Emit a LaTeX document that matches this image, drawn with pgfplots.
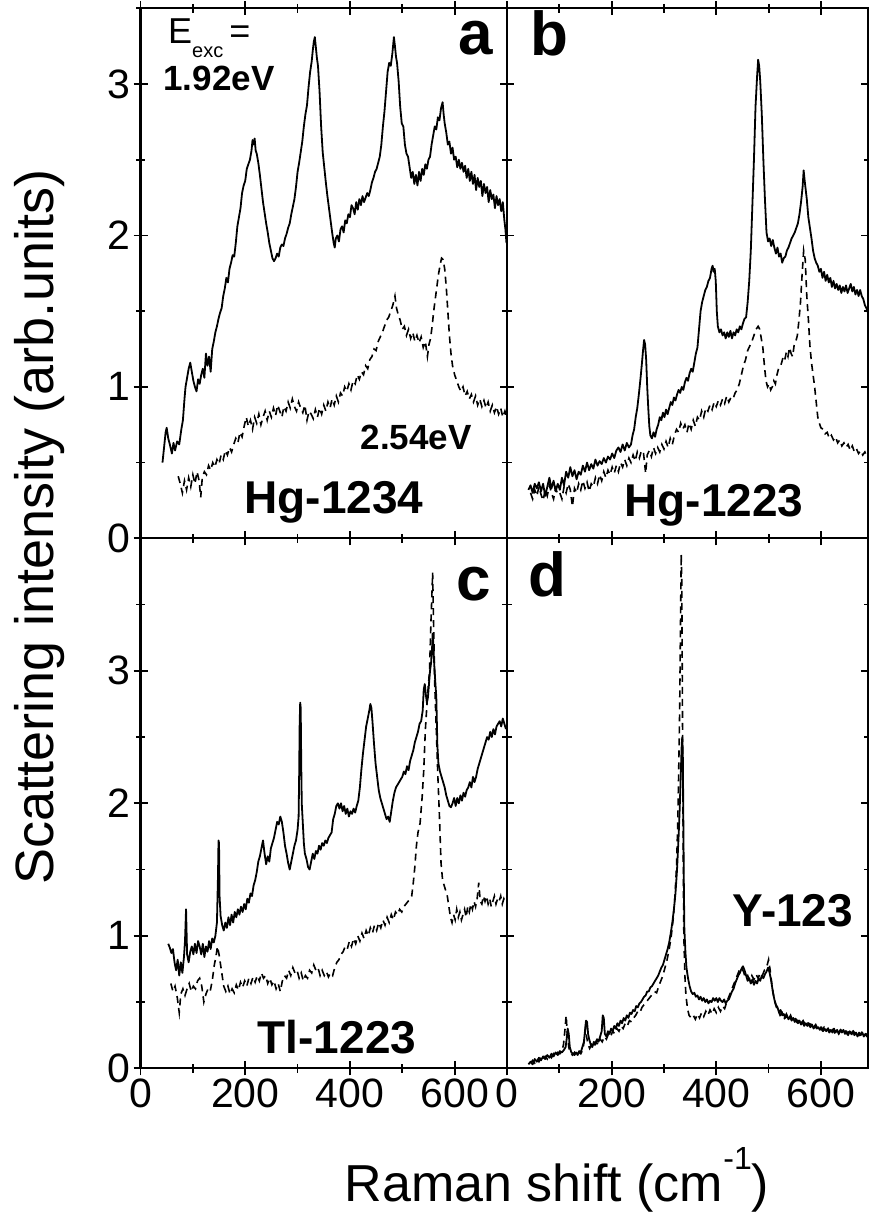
\documentclass[border=0pt]{standalone}
\usepackage{pgfplots}
\pgfplotsset{compat=1.18}
\usepackage{fontspec}
\setmainfont{Liberation Sans}
\newcommand{\tickfont}{\fontsize{41}{48}\selectfont}
\pgfplotsset{
  panel/.style={
    scale only axis,
    axis line style={line width=2.2pt},
    tick style={black, line width=1.8pt},
    major tick length=14pt,
    minor tick length=9pt,
    tick align=center,
    xtick={0,200,400,600},
    minor xtick={100,300,500,700},
    ytick={0,1,2,3},
    ticklabel style={font=\tickfont},
    /pgf/number format/assume math mode=true,
    xmin=0, ymin=0,
    clip=true,
  },
  sol/.style={black, line width=1.8pt, line join=round},
  das/.style={black, line width=1.6pt, dash pattern=on 7pt off 5pt},
}
\begin{document}
\begin{tikzpicture}
% ---------------- panel a ----------------
\begin{axis}[panel, at={(140.5pt,-538.3pt)}, anchor=south west,
  width=366.5pt, height=530pt, xmax=700, ymax=3.5,
  minor ytick={0.5,1.5,2.5,3.5}, xticklabels={,,}]
\addplot[sol] coordinates {
(42,0.50)(45,0.60)(48,0.70)(50,0.73)(53,0.66)(56,0.62)(60,0.56)(63,0.63)(66,0.58)(70,0.64)(74,0.62)(78,0.72)(81,0.78)(84,0.92)(86,1.00)(89,1.06)(92,1.12)(95,1.16)(98,1.10)(101,1.04)(104,1.00)(107,0.97)(110,1.05)(113,1.02)(116,1.08)(119,1.12)(122,1.06)(125,1.22)(128,1.14)(131,1.20)(134,1.10)(137,1.25)(140,1.30)(143,1.36)(146,1.40)(149,1.45)(152,1.49)(155,1.52)(158,1.60)(161,1.65)(164,1.72)(167,1.69)(170,1.78)(173,1.82)(176,1.87)(179,1.86)(182,1.95)(185,2.06)(188,2.12)(191,2.18)(194,2.28)(197,2.33)(200,2.36)(203,2.44)(206,2.47)(209,2.50)(212,2.56)(214,2.63)(216,2.60)(218,2.64)(220,2.56)(222,2.54)(225,2.48)(228,2.40)(231,2.31)(234,2.22)(237,2.15)(240,2.08)(243,2.02)(246,1.95)(249,1.90)(252,1.85)(255,1.83)(258,1.85)(261,1.88)(264,1.86)(267,1.92)(270,1.94)(273,1.93)(276,1.98)(279,2.01)(282,2.05)(285,2.08)(288,2.14)(291,2.19)(294,2.24)(297,2.32)(300,2.42)(303,2.48)(306,2.55)(309,2.62)(312,2.72)(315,2.80)(318,2.86)(321,2.98)(324,3.08)(327,3.15)(329,3.22)(331,3.28)(333,3.31)(335,3.24)(337,3.17)(339,3.12)(342,2.95)(345,2.72)(348,2.55)(351,2.45)(354,2.35)(357,2.26)(360,2.18)(363,2.10)(366,2.02)(369,1.95)(371,1.92)(373,1.98)(376,2.00)(379,1.96)(382,2.04)(385,2.06)(388,2.02)(391,2.10)(394,2.08)(397,2.14)(400,2.12)(403,2.20)(406,2.18)(409,2.14)(412,2.22)(415,2.17)(418,2.24)(421,2.20)(424,2.26)(427,2.22)(430,2.25)(433,2.28)(436,2.26)(439,2.30)(442,2.35)(445,2.38)(448,2.42)(451,2.44)(454,2.48)(457,2.52)(460,2.60)(463,2.72)(466,2.82)(469,2.95)(472,3.08)(475,3.14)(478,3.12)(481,3.20)(484,3.31)(486,3.25)(488,3.18)(490,3.14)(493,3.02)(496,2.85)(499,2.74)(502,2.72)(505,2.60)(508,2.54)(511,2.52)(514,2.45)(517,2.38)(520,2.42)(523,2.34)(526,2.40)(529,2.33)(532,2.42)(535,2.36)(538,2.44)(541,2.40)(544,2.47)(547,2.44)(550,2.50)(553,2.52)(556,2.60)(559,2.66)(562,2.72)(565,2.70)(568,2.78)(571,2.76)(574,2.84)(577,2.88)(579,2.80)(581,2.74)(584,2.68)(587,2.60)(590,2.62)(593,2.54)(596,2.58)(599,2.50)(602,2.52)(605,2.45)(608,2.50)(611,2.44)(614,2.48)(617,2.42)(620,2.46)(623,2.38)(626,2.44)(629,2.36)(632,2.42)(635,2.34)(638,2.40)(641,2.30)(644,2.38)(647,2.32)(650,2.36)(653,2.26)(656,2.34)(659,2.28)(662,2.32)(665,2.22)(668,2.30)(671,2.24)(674,2.27)(677,2.18)(680,2.26)(683,2.20)(686,2.24)(689,2.16)(692,2.22)(695,2.10)(697,2.04)(699,1.95)
};
\addplot[das] coordinates {
(72,0.41)(76,0.36)(80,0.30)(84,0.38)(88,0.32)(92,0.40)(96,0.34)(100,0.42)(104,0.36)(108,0.44)(112,0.38)(115,0.27)(118,0.40)(122,0.44)(126,0.42)(130,0.48)(134,0.45)(138,0.50)(142,0.47)(146,0.52)(150,0.49)(154,0.55)(158,0.52)(162,0.58)(166,0.55)(170,0.60)(174,0.57)(178,0.62)(182,0.66)(186,0.63)(190,0.70)(194,0.67)(198,0.74)(202,0.80)(206,0.74)(210,0.78)(214,0.72)(218,0.80)(222,0.76)(226,0.82)(230,0.75)(234,0.80)(238,0.84)(242,0.78)(246,0.84)(250,0.80)(254,0.86)(258,0.81)(262,0.88)(266,0.84)(270,0.80)(274,0.87)(278,0.84)(282,0.90)(286,0.86)(290,0.92)(294,0.87)(298,0.84)(302,0.90)(306,0.86)(310,0.83)(314,0.88)(318,0.78)(322,0.84)(326,0.82)(330,0.79)(334,0.85)(338,0.80)(342,0.86)(346,0.82)(350,0.88)(354,0.84)(358,0.90)(362,0.86)(366,0.92)(370,0.88)(374,0.94)(378,0.90)(382,0.96)(386,0.94)(390,1.00)(394,0.97)(398,1.02)(402,0.98)(406,1.04)(410,1.02)(414,1.08)(418,1.05)(422,1.10)(426,1.08)(430,1.14)(434,1.12)(438,1.18)(442,1.20)(446,1.25)(450,1.24)(454,1.30)(458,1.33)(462,1.36)(466,1.40)(470,1.44)(474,1.46)(478,1.50)(482,1.54)(486,1.60)(489,1.52)(492,1.48)(496,1.44)(500,1.38)(504,1.40)(508,1.34)(512,1.38)(516,1.32)(520,1.36)(524,1.30)(528,1.34)(532,1.29)(536,1.33)(540,1.26)(544,1.30)(548,1.20)(551,1.28)(554,1.32)(557,1.40)(560,1.50)(563,1.58)(566,1.66)(569,1.74)(572,1.80)(575,1.85)(578,1.84)(581,1.78)(584,1.66)(587,1.50)(590,1.34)(593,1.22)(596,1.14)(600,1.08)(604,1.04)(608,1.00)(612,0.97)(616,1.00)(620,0.94)(624,0.97)(628,0.92)(632,0.95)(636,0.90)(640,0.94)(644,0.88)(648,0.92)(652,0.87)(656,0.91)(660,0.86)(664,0.90)(668,0.84)(672,0.88)(676,0.83)(680,0.87)(684,0.82)(688,0.86)(692,0.80)(696,0.84)(699,0.80)
};
\end{axis}
% ---------------- panel b ----------------
\begin{axis}[panel, at={(507pt,-538.3pt)}, anchor=south west,
  width=361pt, height=530pt, xmax=690, ymax=3.5,
  minor ytick={0.5,1.5,2.5,3.5}, xticklabels={,,}, yticklabels={,,}]
\addplot[sol] coordinates {
(41,0.32)(45,0.35)(49,0.30)(53,0.36)(57,0.33)(61,0.37)(65,0.31)(69,0.36)(73,0.28)(77,0.34)(81,0.40)(85,0.33)(89,0.38)(93,0.31)(97,0.36)(101,0.32)(105,0.40)(109,0.35)(113,0.44)(117,0.40)(121,0.47)(125,0.41)(129,0.45)(133,0.39)(137,0.44)(141,0.42)(145,0.48)(149,0.44)(153,0.50)(157,0.45)(161,0.49)(165,0.46)(169,0.52)(173,0.48)(177,0.51)(181,0.49)(185,0.53)(189,0.50)(193,0.54)(197,0.52)(201,0.56)(205,0.53)(209,0.58)(213,0.60)(217,0.57)(221,0.62)(225,0.58)(229,0.63)(233,0.60)(237,0.62)(240,0.68)(243,0.72)(246,0.80)(249,0.86)(252,0.95)(255,1.05)(258,1.16)(260,1.24)(262,1.31)(264,1.28)(266,1.18)(268,1.00)(270,0.86)(272,0.74)(274,0.68)(277,0.66)(280,0.70)(283,0.67)(286,0.72)(289,0.75)(292,0.80)(295,0.78)(298,0.83)(301,0.80)(304,0.85)(307,0.82)(310,0.86)(313,0.90)(316,0.88)(319,0.93)(322,0.91)(325,0.95)(328,0.98)(331,0.96)(334,1.00)(337,0.98)(340,1.03)(343,1.06)(346,1.04)(349,1.09)(352,1.12)(355,1.10)(358,1.16)(361,1.22)(364,1.26)(367,1.38)(370,1.50)(373,1.56)(376,1.60)(379,1.64)(382,1.66)(385,1.70)(388,1.72)(391,1.78)(393,1.80)(395,1.76)(397,1.78)(399,1.70)(401,1.50)(403,1.40)(406,1.36)(409,1.38)(412,1.34)(415,1.36)(418,1.32)(421,1.36)(424,1.33)(427,1.37)(430,1.32)(433,1.36)(436,1.34)(439,1.38)(442,1.36)(445,1.40)(448,1.38)(451,1.42)(454,1.45)(457,1.46)(460,1.56)(463,1.70)(466,1.90)(469,2.20)(472,2.50)(475,2.85)(478,3.05)(480,3.16)(482,3.12)(484,3.02)(487,2.80)(490,2.50)(493,2.24)(496,2.02)(499,1.96)(502,1.98)(505,1.93)(508,1.97)(511,1.92)(514,1.88)(517,1.92)(520,1.86)(523,1.88)(526,1.82)(529,1.85)(532,1.86)(535,1.90)(538,1.92)(541,1.95)(544,1.98)(547,2.00)(550,2.02)(553,2.05)(556,2.08)(559,2.14)(562,2.22)(565,2.32)(567,2.43)(569,2.36)(571,2.30)(573,2.24)(576,2.12)(579,2.05)(582,1.98)(585,1.90)(588,1.85)(591,1.82)(594,1.80)(597,1.76)(600,1.78)(603,1.72)(606,1.76)(609,1.70)(612,1.74)(615,1.69)(618,1.72)(621,1.66)(624,1.70)(627,1.65)(630,1.68)(633,1.64)(636,1.67)(639,1.62)(642,1.66)(645,1.63)(648,1.67)(651,1.62)(654,1.65)(657,1.68)(660,1.63)(663,1.66)(666,1.61)(669,1.64)(672,1.60)(675,1.64)(678,1.60)(681,1.58)(684,1.54)(687,1.52)(690,1.49)
};
\addplot[das] coordinates {
(45,0.30)(49,0.26)(53,0.32)(57,0.28)(61,0.34)(65,0.29)(69,0.25)(73,0.32)(77,0.28)(81,0.35)(85,0.30)(89,0.26)(93,0.33)(97,0.29)(101,0.30)(105,0.26)(109,0.34)(113,0.30)(117,0.36)(121,0.32)(125,0.21)(129,0.33)(133,0.30)(137,0.36)(141,0.32)(145,0.38)(149,0.33)(153,0.37)(157,0.31)(161,0.36)(165,0.34)(169,0.40)(173,0.36)(177,0.42)(181,0.38)(185,0.44)(189,0.40)(193,0.45)(197,0.42)(201,0.47)(205,0.43)(209,0.48)(213,0.44)(217,0.50)(221,0.47)(225,0.52)(229,0.48)(233,0.53)(237,0.50)(241,0.55)(245,0.51)(249,0.57)(253,0.53)(257,0.58)(261,0.56)(265,0.43)(268,0.55)(272,0.58)(276,0.54)(280,0.60)(284,0.56)(288,0.60)(292,0.57)(296,0.62)(300,0.59)(304,0.64)(308,0.60)(312,0.66)(316,0.62)(320,0.68)(324,0.72)(328,0.70)(332,0.76)(336,0.72)(340,0.75)(344,0.70)(348,0.76)(352,0.72)(356,0.78)(360,0.74)(364,0.80)(368,0.78)(372,0.84)(376,0.80)(380,0.86)(384,0.84)(388,0.88)(392,0.85)(396,0.90)(400,0.87)(404,0.91)(408,0.88)(412,0.92)(416,0.89)(420,0.94)(424,0.90)(428,0.93)(432,0.92)(436,0.96)(440,0.98)(444,1.02)(448,1.08)(452,1.14)(456,1.18)(460,1.24)(464,1.27)(468,1.30)(472,1.34)(476,1.38)(480,1.40)(483,1.38)(486,1.32)(489,1.26)(492,1.14)(495,1.04)(498,1.00)(501,1.02)(504,0.98)(507,1.00)(510,1.04)(513,1.02)(516,1.08)(519,1.12)(522,1.13)(525,1.16)(528,1.20)(531,1.18)(534,1.23)(537,1.20)(540,1.26)(543,1.22)(546,1.20)(549,1.28)(552,1.30)(555,1.34)(558,1.44)(561,1.56)(564,1.74)(567,1.90)(570,1.84)(573,1.60)(576,1.45)(579,1.27)(582,1.16)(585,1.08)(588,1.00)(591,0.90)(594,0.80)(597,0.76)(600,0.73)(604,0.72)(608,0.69)(612,0.70)(616,0.66)(620,0.68)(624,0.65)(628,0.67)(632,0.63)(636,0.65)(640,0.61)(644,0.63)(648,0.60)(652,0.62)(656,0.58)(660,0.61)(664,0.57)(668,0.59)(672,0.56)(676,0.58)(680,0.55)(684,0.57)(688,0.54)(690,0.55)
};
\end{axis}
% ---------------- panel c ----------------
\begin{axis}[panel, at={(140.5pt,-1068.3pt)}, anchor=south west,
  width=366.5pt, height=530pt, xmax=700, ymax=4,
  minor ytick={0.5,1.5,2.5,3.5}]
\addplot[sol] coordinates {
(53,0.94)(56,0.91)(59,0.87)(62,0.90)(65,0.80)(68,0.74)(71,0.82)(74,0.70)(77,0.80)(80,0.72)(83,0.84)(85,0.96)(87,1.20)(89,0.86)(92,0.80)(95,0.88)(98,0.92)(101,0.86)(104,0.94)(107,0.87)(110,0.96)(113,0.92)(116,0.86)(119,0.94)(122,0.84)(125,0.92)(128,0.88)(131,0.96)(134,0.90)(137,0.98)(140,0.95)(143,1.00)(146,1.10)(148,1.45)(149,1.72)(150,1.70)(151,1.30)(153,1.15)(156,1.08)(159,1.04)(162,1.10)(165,1.06)(168,1.14)(171,1.08)(174,1.16)(177,1.10)(180,1.18)(183,1.14)(186,1.20)(189,1.16)(192,1.22)(195,1.18)(198,1.24)(201,1.20)(204,1.28)(207,1.25)(210,1.32)(213,1.30)(216,1.38)(219,1.42)(222,1.48)(225,1.56)(228,1.60)(231,1.66)(234,1.72)(237,1.62)(240,1.54)(243,1.60)(246,1.56)(249,1.66)(252,1.70)(255,1.74)(258,1.80)(261,1.86)(264,1.84)(267,1.90)(270,1.86)(273,1.78)(276,1.68)(279,1.62)(282,1.55)(285,1.50)(288,1.56)(291,1.62)(294,1.68)(297,1.72)(300,1.80)(302,1.90)(303,2.20)(304,2.60)(305,2.76)(306,2.72)(307,2.30)(308,2.00)(310,1.85)(312,1.70)(314,1.62)(317,1.58)(320,1.52)(323,1.50)(326,1.56)(329,1.62)(332,1.58)(335,1.64)(338,1.62)(341,1.68)(344,1.65)(347,1.70)(350,1.68)(353,1.72)(356,1.70)(359,1.74)(362,1.76)(365,1.78)(368,1.88)(371,1.92)(374,1.98)(377,2.00)(380,1.96)(383,2.00)(386,1.94)(389,1.98)(392,1.92)(395,1.96)(398,1.90)(401,1.94)(404,1.92)(407,1.96)(410,1.93)(413,1.98)(416,2.02)(419,2.12)(422,2.26)(425,2.38)(428,2.48)(431,2.58)(434,2.64)(437,2.70)(439,2.75)(441,2.72)(443,2.62)(446,2.45)(449,2.30)(452,2.20)(455,2.10)(458,2.04)(461,2.00)(464,1.96)(467,1.92)(470,1.88)(473,1.90)(476,1.86)(479,1.94)(482,2.02)(485,2.08)(488,2.12)(491,2.14)(494,2.16)(497,2.18)(500,2.20)(503,2.24)(506,2.22)(509,2.28)(512,2.25)(515,2.32)(518,2.36)(521,2.40)(524,2.46)(527,2.50)(530,2.54)(533,2.60)(536,2.62)(539,2.70)(541,2.86)(543,2.90)(545,2.82)(547,2.76)(549,2.80)(551,2.90)(553,3.00)(555,3.06)(557,3.18)(558,3.28)(559,3.22)(561,3.05)(563,2.92)(565,2.80)(566,2.62)(567,2.44)(569,2.30)(572,2.24)(575,2.20)(578,2.16)(581,2.12)(584,2.06)(587,2.02)(590,1.98)(593,1.97)(596,2.00)(599,2.04)(602,1.98)(605,2.04)(608,2.00)(611,2.06)(614,2.02)(617,2.08)(620,2.05)(623,2.10)(626,2.12)(629,2.16)(632,2.12)(635,2.20)(638,2.16)(641,2.20)(644,2.26)(647,2.30)(650,2.34)(653,2.38)(656,2.42)(659,2.46)(662,2.50)(665,2.48)(668,2.54)(671,2.50)(674,2.56)(677,2.52)(680,2.58)(683,2.60)(686,2.62)(689,2.58)(692,2.64)(695,2.60)(698,2.56)
};
\addplot[das] coordinates {
(58,0.64)(62,0.58)(66,0.62)(70,0.54)(74,0.42)(77,0.56)(81,0.60)(85,0.55)(89,0.60)(93,0.64)(97,0.58)(101,0.62)(105,0.60)(109,0.66)(113,0.68)(117,0.62)(121,0.50)(125,0.56)(129,0.60)(133,0.58)(137,0.66)(141,0.78)(144,0.84)(147,0.92)(150,0.86)(153,0.78)(156,0.70)(159,0.62)(163,0.58)(167,0.62)(171,0.56)(175,0.60)(179,0.57)(183,0.63)(187,0.59)(191,0.65)(195,0.61)(199,0.66)(203,0.62)(207,0.68)(211,0.64)(215,0.69)(219,0.65)(223,0.70)(227,0.66)(231,0.72)(235,0.68)(239,0.70)(243,0.64)(247,0.68)(251,0.63)(255,0.66)(259,0.60)(263,0.64)(267,0.58)(271,0.66)(275,0.70)(279,0.68)(283,0.74)(287,0.70)(291,0.76)(295,0.72)(299,0.74)(303,0.68)(307,0.72)(311,0.66)(315,0.70)(319,0.68)(323,0.74)(327,0.72)(331,0.78)(335,0.74)(339,0.76)(343,0.70)(347,0.74)(351,0.70)(355,0.73)(359,0.69)(363,0.72)(367,0.70)(371,0.76)(375,0.80)(379,0.82)(383,0.86)(387,0.88)(391,0.92)(395,0.90)(399,0.96)(403,0.92)(407,0.98)(411,0.94)(415,1.00)(419,0.96)(423,1.02)(427,0.98)(431,1.04)(435,1.00)(439,1.06)(443,1.02)(447,1.08)(451,1.04)(455,1.10)(459,1.06)(463,1.12)(467,1.08)(471,1.14)(475,1.10)(479,1.16)(483,1.12)(487,1.18)(491,1.16)(495,1.20)(499,1.18)(503,1.22)(507,1.24)(511,1.26)(515,1.28)(518,1.30)(521,1.40)(524,1.52)(527,1.68)(530,1.78)(534,1.85)(538,2.05)(541,2.25)(544,2.55)(548,2.80)(552,3.00)(555,3.40)(558,3.74)(560,3.30)(562,2.90)(565,2.55)(568,2.20)(571,1.90)(574,1.55)(577,1.42)(580,1.38)(583,1.34)(586,1.30)(589,1.22)(592,1.14)(595,1.10)(598,1.16)(601,1.12)(604,1.20)(607,1.14)(610,1.18)(613,1.12)(616,1.16)(619,1.20)(622,1.14)(625,1.22)(628,1.18)(631,1.24)(634,1.20)(637,1.26)(640,1.22)(643,1.28)(646,1.40)(649,1.26)(652,1.24)(655,1.30)(658,1.26)(661,1.30)(664,1.24)(667,1.28)(670,1.22)(673,1.26)(676,1.30)(679,1.24)(682,1.28)(685,1.26)(688,1.30)(691,1.24)(694,1.28)(697,1.25)
};
\end{axis}
% ---------------- panel d ----------------
\begin{axis}[panel, at={(507pt,-1068.3pt)}, anchor=south west,
  width=361pt, height=530pt, xmax=690, ymax=4,
  minor ytick={0.5,1.5,2.5,3.5}, yticklabels={,,}]
\addplot[sol] coordinates {
(41,0.03)(45,0.05)(49,0.03)(53,0.07)(57,0.05)(61,0.08)(65,0.06)(69,0.09)(73,0.07)(77,0.10)(81,0.08)(85,0.11)(89,0.09)(93,0.12)(97,0.10)(101,0.13)(105,0.12)(109,0.14)(112,0.16)(114,0.22)(116,0.30)(118,0.26)(120,0.16)(123,0.12)(126,0.11)(129,0.10)(132,0.12)(135,0.10)(138,0.13)(141,0.12)(144,0.16)(147,0.20)(149,0.28)(151,0.36)(153,0.35)(155,0.26)(157,0.22)(160,0.18)(163,0.16)(166,0.20)(169,0.18)(172,0.22)(175,0.20)(178,0.24)(181,0.28)(183,0.40)(185,0.38)(187,0.26)(190,0.24)(193,0.28)(196,0.26)(199,0.30)(202,0.28)(205,0.32)(208,0.30)(211,0.34)(214,0.32)(217,0.36)(220,0.34)(223,0.38)(226,0.36)(229,0.40)(232,0.38)(235,0.42)(238,0.41)(241,0.44)(244,0.43)(247,0.47)(250,0.46)(253,0.49)(256,0.50)(259,0.52)(262,0.54)(265,0.55)(268,0.58)(271,0.58)(274,0.61)(277,0.62)(280,0.64)(283,0.66)(286,0.68)(289,0.70)(292,0.73)(295,0.76)(298,0.78)(301,0.82)(304,0.86)(307,0.90)(310,0.95)(313,1.02)(316,1.10)(319,1.20)(322,1.32)(325,1.50)(328,1.75)(330,1.95)(332,2.20)(334,2.45)(335,2.50)(336,2.40)(337,1.90)(338,1.40)(339,1.05)(341,0.88)(343,0.76)(346,0.68)(349,0.62)(352,0.58)(355,0.56)(358,0.57)(361,0.54)(364,0.55)(367,0.52)(370,0.54)(373,0.51)(376,0.53)(379,0.50)(382,0.52)(385,0.49)(388,0.51)(391,0.50)(394,0.53)(397,0.51)(400,0.53)(403,0.50)(406,0.53)(409,0.51)(412,0.50)(415,0.52)(418,0.49)(421,0.51)(424,0.52)(427,0.55)(430,0.58)(433,0.60)(436,0.64)(439,0.67)(442,0.70)(445,0.72)(448,0.75)(451,0.77)(454,0.74)(457,0.70)(460,0.66)(463,0.68)(466,0.64)(469,0.67)(472,0.63)(475,0.66)(478,0.64)(481,0.68)(484,0.66)(487,0.70)(490,0.68)(493,0.71)(496,0.73)(499,0.76)(502,0.72)(505,0.66)(508,0.58)(511,0.52)(514,0.48)(517,0.46)(520,0.42)(523,0.44)(526,0.40)(529,0.41)(532,0.38)(535,0.40)(538,0.37)(541,0.39)(544,0.36)(547,0.38)(550,0.35)(553,0.37)(556,0.34)(559,0.36)(562,0.33)(565,0.35)(568,0.32)(571,0.34)(574,0.32)(577,0.34)(580,0.31)(583,0.33)(586,0.30)(589,0.32)(592,0.30)(595,0.31)(598,0.29)(601,0.31)(604,0.28)(607,0.30)(610,0.28)(613,0.30)(616,0.27)(619,0.29)(622,0.27)(625,0.30)(628,0.27)(631,0.29)(634,0.26)(637,0.29)(640,0.27)(643,0.29)(646,0.26)(649,0.28)(652,0.25)(655,0.28)(658,0.26)(661,0.28)(664,0.25)(667,0.27)(670,0.24)(673,0.27)(676,0.25)(679,0.27)(682,0.24)(685,0.26)(688,0.24)(690,0.25)
};
\addplot[das] coordinates {
(45,0.04)(49,0.06)(53,0.04)(57,0.07)(61,0.05)(65,0.08)(69,0.06)(73,0.09)(77,0.07)(81,0.10)(85,0.08)(89,0.11)(93,0.09)(97,0.12)(101,0.11)(105,0.13)(108,0.18)(111,0.30)(113,0.40)(115,0.28)(118,0.16)(121,0.12)(125,0.10)(129,0.12)(133,0.09)(137,0.12)(141,0.11)(145,0.14)(148,0.22)(150,0.30)(152,0.24)(155,0.18)(158,0.15)(162,0.18)(166,0.16)(170,0.20)(174,0.18)(178,0.22)(182,0.20)(186,0.24)(190,0.22)(194,0.26)(198,0.24)(202,0.28)(206,0.26)(210,0.30)(214,0.28)(218,0.32)(222,0.30)(226,0.34)(230,0.32)(234,0.36)(238,0.35)(242,0.38)(246,0.40)(250,0.43)(254,0.42)(258,0.46)(262,0.48)(266,0.50)(270,0.52)(274,0.54)(278,0.56)(282,0.58)(286,0.57)(290,0.62)(294,0.66)(298,0.70)(302,0.76)(306,0.82)(310,0.90)(314,1.00)(318,1.14)(321,1.30)(324,1.52)(326,1.80)(328,2.20)(330,2.70)(331,3.10)(332,3.50)(333,3.88)(334,3.70)(335,3.00)(336,2.20)(337,1.50)(338,1.00)(340,0.70)(342,0.55)(345,0.45)(348,0.40)(352,0.38)(356,0.40)(360,0.37)(364,0.41)(368,0.38)(372,0.42)(376,0.39)(380,0.43)(384,0.40)(388,0.44)(392,0.41)(396,0.45)(400,0.42)(404,0.46)(408,0.43)(412,0.47)(416,0.45)(420,0.50)(424,0.54)(428,0.58)(432,0.62)(436,0.66)(440,0.70)(444,0.74)(448,0.76)(452,0.73)(456,0.68)(460,0.70)(464,0.66)(468,0.70)(472,0.67)(476,0.71)(480,0.68)(484,0.72)(488,0.70)(492,0.74)(496,0.76)(500,0.82)(503,0.74)(506,0.64)(509,0.56)(512,0.50)(515,0.46)(518,0.44)(522,0.40)(526,0.42)(530,0.38)(534,0.41)(538,0.37)(542,0.40)(546,0.36)(550,0.38)(554,0.35)(558,0.37)(562,0.34)(566,0.36)(570,0.33)(574,0.35)(578,0.32)(582,0.34)(586,0.31)(590,0.33)(594,0.30)(598,0.32)(602,0.29)(606,0.31)(610,0.28)(614,0.30)(618,0.27)(622,0.30)(626,0.27)(630,0.29)(634,0.26)(638,0.29)(642,0.27)(646,0.29)(650,0.26)(654,0.28)(658,0.25)(662,0.28)(666,0.26)(670,0.27)(674,0.25)(678,0.27)(682,0.24)(686,0.26)(690,0.25)
};
\end{axis}
% ---------------- texts ----------------
\node[font=\fontsize{62}{62}\selectfont\bfseries] at (476pt,-38pt) {a};
\node[font=\fontsize{62}{62}\selectfont\bfseries] at (549pt,-33pt) {b};
\node[font=\fontsize{62}{62}\selectfont\bfseries] at (474pt,-584pt) {c};
\node[font=\fontsize{62}{62}\selectfont\bfseries] at (547pt,-574pt) {d};
\node[anchor=west, inner sep=0pt, font=\fontsize{36}{36}\selectfont] at (168pt,-38pt) {E\raisebox{-0.4em}{\fontsize{20}{20}\selectfont exc}\,=};
\node[font=\fontsize{35}{35}\selectfont\bfseries] at (219pt,-78pt) {1.92eV};
\node[font=\fontsize{35}{35}\selectfont\bfseries] at (416pt,-437pt) {2.54eV};
\node[font=\fontsize{46}{46}\selectfont\bfseries] at (334pt,-502pt) {Hg-1234};
\node[font=\fontsize{46}{46}\selectfont\bfseries] at (714pt,-505pt) {Hg-1223};
\node[font=\fontsize{46}{46}\selectfont\bfseries] at (337pt,-1037pt) {Tl-1223};
\node[font=\fontsize{46}{46}\selectfont\bfseries] at (793pt,-911pt) {Y-123};
\node[rotate=90, font=\fontsize{54}{54}\selectfont] at (40pt,-527pt) {Scattering intensity (arb.units)};
\node[font=\fontsize{52}{52}\selectfont] at (557pt,-1180pt) {Raman shift (cm\raisebox{0.62em}{\fontsize{32}{32}\selectfont -1})};
\pgfresetboundingbox
\path[use as bounding box] (0pt,0pt) rectangle (869pt,-1215pt);
\end{tikzpicture}
\end{document}
